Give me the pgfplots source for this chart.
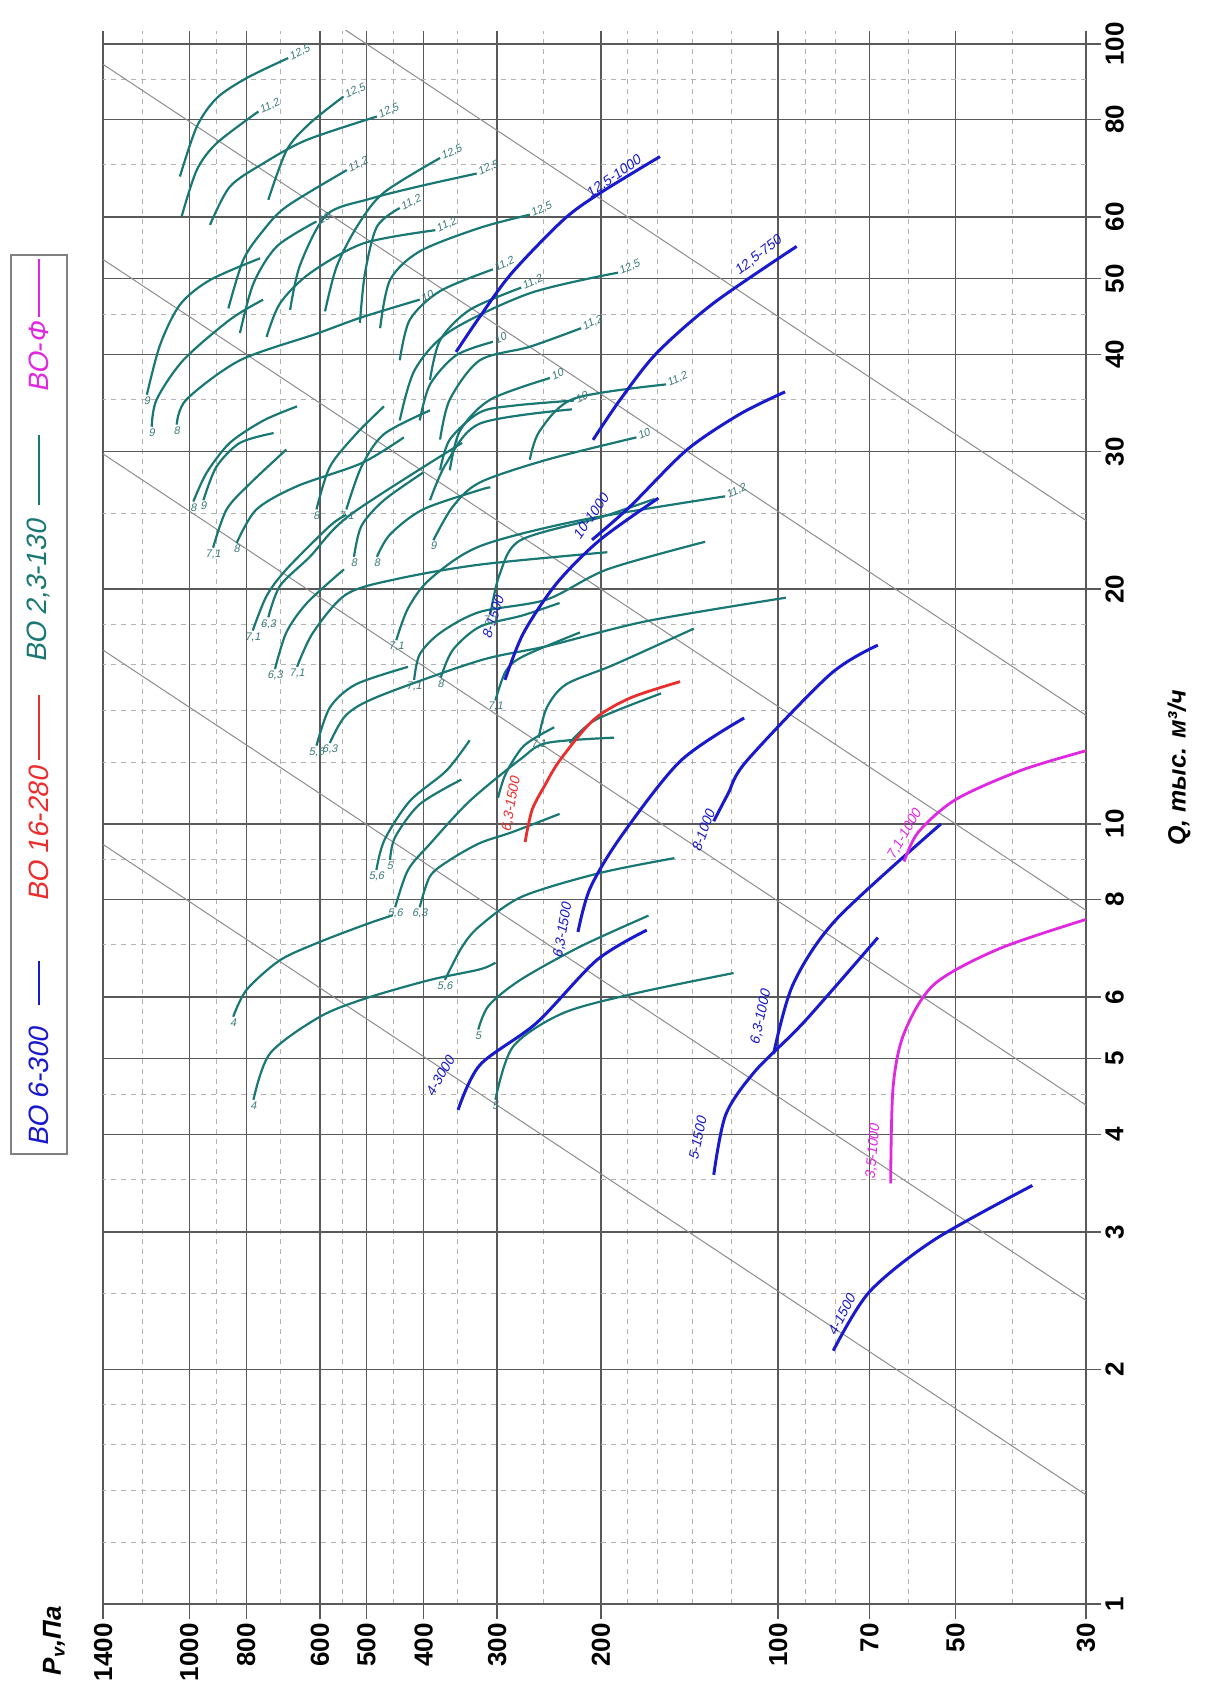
\documentclass[border=0pt]{standalone}
\usepackage{fontspec}
\setmainfont{Liberation Sans}
\newfontfamily\gost[FakeSlant=0.2]{Liberation Sans}
\usepackage{pgfplots}
\pgfplotsset{compat=1.18}
\definecolor{cteal}{RGB}{25,120,115}
\definecolor{cblue}{RGB}{25,25,205}
\definecolor{cred}{RGB}{235,45,45}
\definecolor{cmag}{RGB}{225,40,225}
\pgfplotsset{
  tc/.style={cteal, line width=1.1pt, smooth, no marks},
  bc/.style={cblue, line width=1.5pt, smooth, no marks},
  rc/.style={cred, line width=1.4pt, smooth, no marks},
  mc/.style={cmag, line width=1.4pt, smooth, no marks},
  dg/.style={black!45, line width=0.5pt, no marks},
}
\begin{document}
\begin{tikzpicture}
\useasboundingbox (0,0) rectangle (603.5pt,852pt);
\begin{axis}[
  at={(51.6pt,50pt)}, anchor=south west,
  scale only axis, width=491.4pt, height=786.7pt,
  xmode=log, ymode=log, x dir=reverse,
  xmin=30, xmax=1400, ymin=1, ymax=104,
  xtick={30,50,70,100,200,300,400,500,600,800,1000,1400},
  xticklabels={30,50,70,100,200,300,400,500,600,800,1000,1400},
  ytick={1,2,3,4,5,6,8,10,20,30,40,50,60,80,100},
  yticklabels={1,2,3,4,5,6,8,10,20,30,40,50,60,80,100},
  minor xtick={40,60,80,90,120,140,160,180,250,350,450,550,700,900,1200},
  minor ytick={1.2,1.4,1.6,1.8,2.5,3.5,4.5,7,9,12,14,16,18,25,35,45,70,90},
  grid=both,
  major grid style={black!65, line width=0.7pt},
  minor grid style={black!30, line width=0.4pt, dash pattern=on 2.5pt off 2.5pt},
  axis line style={draw=none},
  xtick pos=left, ytick pos=right,
  xticklabel pos=left, yticklabel pos=right,
  tick align=outside, major tick length=7.5pt, minor tick length=0pt,
  tick style={black!65, line width=0.7pt},
  xticklabel style={rotate=90, anchor=east, inner sep=2pt, font=\bfseries\fontsize{13}{13}\selectfont},
  yticklabel style={rotate=90, anchor=north, inner sep=2pt, font=\bfseries\fontsize{13}{13}\selectfont},
]
% constant lines
\addplot[dg] coordinates {(1400,167.3) (30,24.49)};
\addplot[dg] coordinates {(1400,94.1) (30,13.78)};
\addplot[dg] coordinates {(1400,52.9) (30,7.75)};
\addplot[dg] coordinates {(1400,29.8) (30,4.36)};
\addplot[dg] coordinates {(1400,16.7) (30,2.45)};
\addplot[dg] coordinates {(1400,9.41) (30,1.38)};
% VO 2,3-130 (teal)
\addplot[tc] coordinates {(1037,67.6) (971,78.3) (898,85.2) (799,90.4) (679,95.9)};
\addplot[tc] coordinates {(1030,60.1) (971,68.9) (898,74.6) (763,81.9)};
\addplot[tc] coordinates {(922,58.6) (853,65.6) (748,70.3) (632,75.3) (480,80.7)};
\addplot[tc] coordinates {(734,63.1) (683,73.1) (624,79.1) (547,85.6)};
\addplot[tc] coordinates {(858,45.8) (809,52.9) (748,57.7) (683,61.9) (540,68.9)};
\addplot[tc] coordinates {(820,42.6) (778,49.3) (710,55.0) (608,59.2)};
\addplot[tc] coordinates {(739,42.1) (701,46.5) (624,50.8) (506,55.5) (382,57.7)};
\addplot[tc] coordinates {(588,45.4) (562,51.8) (519,58.3) (468,64.4) (375,71.4)};
\addplot[tc] coordinates {(513,43.9) (503,50.8) (480,58.3) (439,61.6)};
\addplot[tc] coordinates {(1180,35.5) (1121,41.1) (1037,46.3) (922,49.8) (758,53.1)};
\addplot[tc] coordinates {(1158,32.3) (1136,35.0) (1024,39.3) (853,44.3) (749,47.0)};
\addplot[tc] coordinates {(1050,32.5) (1011,35.0) (820,39.3) (608,42.5) (510,44.6) (406,47.0)};
\addplot[tc] coordinates {(984,25.9) (934,28.2) (853,30.8) (748,32.9) (656,34.3)};
\addplot[tc] coordinates {(946,26.0) (899,28.7) (820,30.8) (719,31.7)};
\addplot[tc] coordinates {(911,22.6) (864,25.3) (789,27.3) (684,30.2)};
\addplot[tc] coordinates {(831,22.9) (769,25.3) (656,27.1) (510,29.0) (432,31.3)};
\addplot[tc] coordinates {(780,17.7) (739,19.6) (684,21.2) (577,24.1) (541,24.9)};
\addplot[tc] coordinates {(734,18.4) (701,20.2) (624,22.0) (533,24.9) (344,30.8)};
\addplot[tc] coordinates {(715,15.8) (684,17.6) (631,19.2) (546,21.2)};
\addplot[tc] coordinates {(656,15.9) (616,17.6) (541,19.7) (445,20.6) (321,21.5) (195,22.3)};
\addplot[tc] coordinates {(608,12.6) (577,14.1) (521,15.1) (425,15.9)};
\addplot[tc] coordinates {(577,12.7) (541,13.8) (474,14.6) (321,16.2) (247,16.9) (167,18.2) (97,19.5)};
\addplot[tc] coordinates {(541,25.3) (510,28.7) (467,31.6) (390,33.9)};
\addplot[tc] coordinates {(525,22.0) (510,24.1) (467,26.0) (401,28.2)};
\addplot[tc] coordinates {(480,22.0) (456,23.5) (401,25.3) (321,26.8) (308,27.0)};
\addplot[tc] coordinates {(445,17.2) (425,18.9) (390,20.6) (321,22.7) (217,24.5) (123,26.3)};
\addplot[tc] coordinates {(415,15.3) (406,16.5) (374,17.6) (321,18.7) (247,19.4) (195,21.2) (133,23.0)};
\addplot[tc] coordinates {(374,15.4) (357,16.7) (321,17.9) (272,18.5) (235,19.2)};
\addplot[tc] coordinates {(385,23.1) (357,25.5) (321,27.4) (247,29.3) (174,31.3)};
\addplot[tc] coordinates {(608,25.3) (577,28.7) (521,31.6) (467,34.3)};
\addplot[tc] coordinates {(308,18.6) (297,20.9) (274,23.1) (201,24.7) (162,26.1)};
\addplot[tc] coordinates {(778,4.43) (729,5.08) (600,5.66) (500,5.98) (390,6.31) (321,6.51) (302,6.64)};
\addplot[tc] coordinates {(842,5.66) (799,6.13) (701,6.69) (600,7.06) (500,7.44) (451,7.64)};
\addplot[tc] coordinates {(481,8.73) (466,9.54) (422,10.7) (366,11.7) (334,12.8)};
\addplot[tc] coordinates {(456,8.99) (447,9.62) (406,10.6) (345,11.4)};
\addplot[tc] coordinates {(447,7.82) (425,8.73) (390,9.43) (334,10.7) (274,12.1) (247,12.7) (190,12.9)};
\addplot[tc] coordinates {(406,7.82) (390,8.57) (361,8.99) (321,9.45) (283,9.76) (235,10.3)};
\addplot[tc] coordinates {(323,5.45) (310,5.85) (274,6.31) (217,6.96) (166,7.63)};
\addplot[tc] coordinates {(302,4.43) (282,5.18) (232,5.72) (174,6.07) (119,6.44)};
\addplot[tc] coordinates {(368,6.31) (344,6.96) (321,7.40) (272,8.07) (201,8.65) (150,9.04)};
\addplot[tc] coordinates {(299,10.8) (290,11.6) (270,12.6) (240,13.3)};
\addplot[tc] coordinates {(255,12.9) (247,14.1) (229,15.1) (190,16.0) (139,17.8)};
\addplot[tc] coordinates {(302,14.4) (290,15.7) (271,16.4) (217,17.6)};
\addplot[tc] coordinates {(226,12.7) (204,13.6) (158,14.7)};
\addplot[tc] coordinates {(674,45.6) (648,52.1) (584,60.4) (493,63.3) (406,65.7) (325,68.2)};
\addplot[tc] coordinates {(474,43.2) (456,49.8) (406,54.2) (321,58.1) (264,60.4)};
\addplot[tc] coordinates {(439,39.3) (422,44.3) (375,48.2) (305,51.4)};
\addplot[tc] coordinates {(390,37.1) (375,41.7) (334,45.6) (273,48.7)};
\addplot[tc] coordinates {(439,32.9) (414,38.2) (361,42.8) (264,47.9) (187,50.9)};
\addplot[tc] coordinates {(375,31.1) (361,35.0) (321,39.3) (264,40.9) (216,43.2)};
\addplot[tc] coordinates {(406,32.9) (390,36.6) (352,39.9) (305,41.5)};
\addplot[tc] coordinates {(361,28.4) (347,31.9) (308,35.0) (244,37.3)};
\addplot[tc] coordinates {(264,29.3) (254,31.9) (222,35.1) (155,36.6)};
\addplot[tc] coordinates {(375,28.4) (361,31.1) (321,33.7) (279,34.4) (222,34.9)};
\addplot[tc] coordinates {(390,26.0) (366,29.0) (321,32.6) (224,34.0)};
% VO 16-280 (red)
\addplot[rc] coordinates {(268.9,9.48) (261.7,10.42) (248.7,11.22) (234.5,12.08) (205.9,13.59) (178.4,14.50) (146.7,15.22)};
% VO 6-300 (blue)
\addplot[bc] coordinates {(80.6,2.112) (70.0,2.512) (54.3,2.93) (37.0,3.44)};
\addplot[bc] coordinates {(349.5,4.30) (320.8,4.91) (257,5.56) (203.2,6.69) (167.1,7.31)};
\addplot[bc] coordinates {(128.6,3.55) (122.7,4.24) (109.4,4.82) (90.4,5.57) (67.7,7.15)};
\addplot[bc] coordinates {(101.8,5.07) (94.3,6.23) (79.6,7.55) (52.9,10.0)};
\addplot[bc] coordinates {(218.7,7.27) (208.7,8.26) (185.3,9.61) (146.7,12.03) (114.2,13.67)};
\addplot[bc] coordinates {(128.6,10.08) (121.7,10.92) (113.2,12.03) (81.6,15.55) (67.7,16.95)};
\addplot[bc] coordinates {(290.9,15.3) (270.7,17.56) (237.6,20.35) (200.6,23.13) (159.7,26.16)};
\addplot[bc] coordinates {(207,23.13) (178.4,25.52) (142.9,30.16) (116.0,33.54) (97.3,35.8)};
\addplot[bc] coordinates {(206.2,31.07) (185.5,34.97) (160.8,40.13) (128.8,46.5) (93.0,55.0)};
\addplot[bc] coordinates {(352.3,40.28) (320.8,44.72) (283.4,50.82) (231.5,59.49) (200.6,64.38) (158.7,71.7)};
% VO-F (magenta)
\addplot[mc] coordinates {(64.4,3.46) (63.8,4.59) (61.1,5.39) (54.3,6.23) (42.1,6.92) (29.9,7.55)};
\addplot[mc] coordinates {(61.1,8.95) (57.8,9.76) (49.9,10.75) (38.6,11.72) (29.9,12.42)};
% curve labels
\begin{scope}[every node/.style={font=\gost\fontsize{7}{7}\selectfont, inner sep=0.5pt}]
\node[text=cblue, rotate=62] at (axis cs:78,2.35) {4-1500};
\node[text=cblue, rotate=60] at (axis cs:375,4.75) {4-3000};
\node[text=cblue, rotate=78] at (axis cs:137,3.95) {5-1500};
\node[text=cblue, rotate=78] at (axis cs:107,5.65) {6,3-1000};
\node[text=cblue, rotate=80] at (axis cs:232,7.3) {6,3-1500};
\node[text=cblue, rotate=70] at (axis cs:134,9.8) {8-1000};
\node[text=cblue, rotate=72] at (axis cs:305,18.4) {8-1500};
\node[text=cblue, rotate=55] at (axis cs:208,24.8) {10-1000};
\node[text=cblue, rotate=38] at (axis cs:108,53.5) {12,5-750};
\node[text=cblue, rotate=35] at (axis cs:190,67.5) {12,5-1000};
\node[text=cred, rotate=80] at (axis cs:284,10.6) {6,3-1500};
\node[text=cmag, rotate=85] at (axis cs:69,3.8) {3,5-1000};
\node[text=cmag, rotate=60] at (axis cs:61,9.7) {7,1-1000};
\end{scope}
% teal size labels: ends
\begin{scope}[every node/.style={font=\gost\fontsize{5.5}{5.5}\selectfont, text=cteal!70!gray, inner sep=0.8pt, anchor=west, rotate=25}]
\node at (axis cs:679,95.9) {12,5};
\node at (axis cs:763,81.9) {11,2};
\node at (axis cs:480,80.7) {12,5};
\node at (axis cs:547,85.6) {12,5};
\node at (axis cs:540,68.9) {11,2};
\node at (axis cs:608,59.2) {10};
\node at (axis cs:382,57.7) {11,2};
\node at (axis cs:375,71.4) {12,5};
\node at (axis cs:439,61.6) {11,2};
\node at (axis cs:325,68.2) {12,5};
\node at (axis cs:264,60.4) {12,5};
\node at (axis cs:305,51.4) {11,2};
\node at (axis cs:273,48.7) {11,2};
\node at (axis cs:187,50.9) {12,5};
\node at (axis cs:216,43.2) {11,2};
\node at (axis cs:305,41.5) {10};
\node at (axis cs:244,37.3) {10};
\node at (axis cs:155,36.6) {11,2};
\node at (axis cs:222,34.9) {10};
\node at (axis cs:174,31.3) {10};
\node at (axis cs:123,26.3) {11,2};
\node at (axis cs:406,47.0) {10};
\end{scope}
% teal size labels: starts
\begin{scope}[every node/.style={font=\gost\fontsize{5.5}{5.5}\selectfont, text=cteal!70!gray, inner sep=0.8pt, anchor=north}]
\node at (axis cs:1180,35.5) {9};
\node at (axis cs:1158,32.3) {9};
\node at (axis cs:1050,32.5) {8};
\node at (axis cs:984,25.9) {8};
\node at (axis cs:946,26.0) {9};
\node at (axis cs:911,22.6) {7,1};
\node at (axis cs:831,22.9) {8};
\node at (axis cs:780,17.7) {7,1};
\node at (axis cs:734,18.4) {6,3};
\node at (axis cs:715,15.8) {6,3};
\node at (axis cs:656,15.9) {7,1};
\node at (axis cs:608,12.6) {5,6};
\node at (axis cs:577,12.7) {6,3};
\node at (axis cs:541,25.3) {7,1};
\node at (axis cs:525,22.0) {8};
\node at (axis cs:480,22.0) {8};
\node at (axis cs:445,17.2) {7,1};
\node at (axis cs:415,15.3) {7,1};
\node at (axis cs:374,15.4) {8};
\node at (axis cs:385,23.1) {9};
\node at (axis cs:608,25.3) {8};
\node at (axis cs:308,18.6) {7,1};
\node at (axis cs:778,4.43) {4};
\node at (axis cs:842,5.66) {4};
\node at (axis cs:481,8.73) {5,6};
\node at (axis cs:456,8.99) {5};
\node at (axis cs:447,7.82) {5,6};
\node at (axis cs:406,7.82) {6,3};
\node at (axis cs:323,5.45) {5};
\node at (axis cs:302,4.43) {5};
\node at (axis cs:368,6.31) {5,6};
\node at (axis cs:255,12.9) {7,1};
\node at (axis cs:302,14.4) {7,1};
\end{scope}
\end{axis}
% legend
\begin{scope}[shift={(33.5pt,275pt)}, rotate=90, transform shape]
  \draw[black!50, line width=0.6pt] (0,0) rectangle (449.5pt,28pt);
  \begin{scope}[every node/.style={anchor=west, inner sep=0pt, font=\gost\fontsize{14}{14}\selectfont}]
  \node[text=cblue] at (3.5pt,14pt) {ВО 6-300};
  \node[text=cred] at (126pt,14pt) {ВО 16-280};
  \node[text=cteal] at (245.5pt,14pt) {ВО 2,3-130};
  \node[text=cmag] at (380.5pt,14pt) {ВО-Ф};
  \end{scope}
  \draw[cblue, line width=1.1pt] (74.5pt,14pt) -- (96.5pt,14pt);
  \draw[cred, line width=1.1pt] (197pt,14pt) -- (229.5pt,14pt);
  \draw[cteal, line width=1.1pt] (324.5pt,14pt) -- (359.5pt,14pt);
  \draw[cmag, line width=1.1pt] (418.5pt,14pt) -- (447.5pt,14pt);
\end{scope}
\node[rotate=90, anchor=east, inner sep=0pt, font=\bfseries\itshape\fontsize{13}{13}\selectfont] at (27pt,49pt) {P\textsubscript{v},Па};
\node[rotate=90, inner sep=0pt, font=\bfseries\itshape\fontsize{12.5}{13}\selectfont] at (589.5pt,468pt) {Q, тыс. м³/ч};
\end{tikzpicture}
\end{document}
